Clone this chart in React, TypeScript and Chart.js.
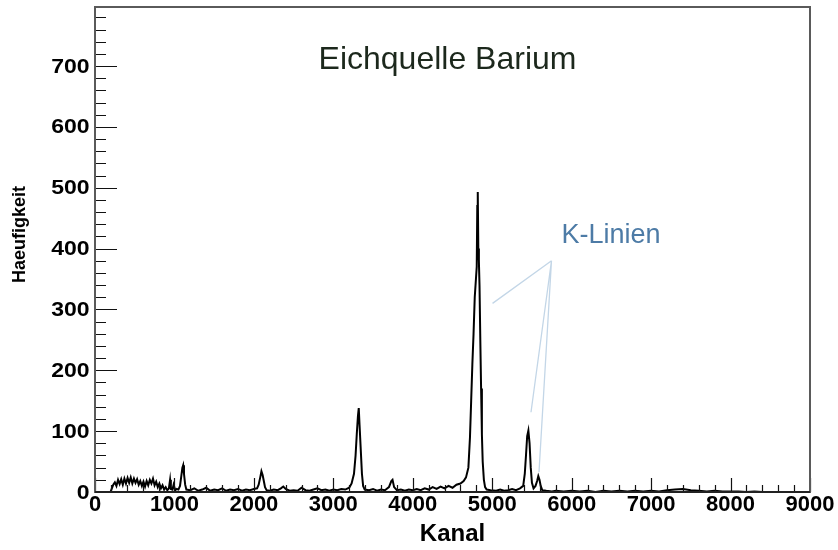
import { useEffect, useRef } from "react";
import { Chart, registerables } from "chart.js";

Chart.register(...registerables);

// Channel (Kanal) positions and counts (Haeufigkeit)
const KANAL = [
  0, 195, 230, 250, 270, 290, 310, 330, 350, 370, 390, 410, 430, 450, 470, 490,
  510, 530, 550, 570, 590, 610, 630, 650, 670, 690, 710, 730, 750, 770, 790, 810,
  830, 850, 870, 890, 910, 930, 945, 955, 975, 990, 1010, 1030, 1050, 1070,
  1085, 1100, 1110, 1120, 1135, 1150,
  1200, 1250, 1300, 1350, 1400, 1450, 1500, 1550, 1600, 1650, 1700, 1750, 1800,
  1850, 1900, 1950, 2000, 2040,
  2060, 2080, 2095, 2110, 2125, 2140, 2160,
  2200, 2250, 2300, 2340, 2370, 2400, 2450, 2500, 2550, 2600, 2650, 2700, 2750,
  2800, 2850, 2900, 2950, 3000, 3050, 3100, 3150, 3200,
  3230, 3260, 3280, 3295, 3310, 3320, 3330, 3345, 3360, 3375, 3395,
  3450, 3500, 3550, 3600, 3650, 3700, 3730, 3745, 3765, 3800, 3850, 3900, 3950,
  4000, 4050, 4100, 4150, 4200, 4250, 4300, 4350, 4400, 4450, 4500, 4550, 4600,
  4640, 4670, 4700, 4720, 4735, 4750, 4765, 4780, 4795, 4805, 4812, 4818, 4825,
  4832, 4840, 4850, 4860, 4870, 4880, 4895, 4910, 4930,
  4980, 5050, 5100, 5150, 5200, 5250, 5300, 5350, 5390, 5410, 5425, 5440, 5455,
  5470, 5485, 5500, 5520, 5545, 5565, 5580, 5595, 5610, 5630, 5680, 5750, 5800,
  5900, 6000, 6100, 6200, 6300, 6400, 6500, 6600, 6700, 6800, 6900, 7000, 7100,
  7200, 7300, 7400, 7500, 7600, 7700, 7800, 7900, 8000, 8100, 8200, 8300, 8400,
  8500, 8600, 8800, 9000,
];

const HAEUFIGKEIT = [
  0, 0, 12, 16, 10, 20, 13, 21, 12, 22, 14, 23, 15, 24, 14, 22,
  15, 21, 12, 18, 10, 17, 9, 18, 11, 20, 14, 22, 11, 17, 8, 14,
  6, 11, 4, 8, 3, 6, 20, 5, 4, 12, 3, 5, 4, 10,
  25, 40, 44, 30, 12, 4,
  3, 6, 2, 4, 7, 2, 4, 3, 6, 2, 4, 3, 5,
  2, 4, 3, 5, 6,
  12, 24, 34, 28, 18, 8, 3,
  2, 4, 3, 6, 9, 5, 2, 3, 2, 7, 3, 2, 4,
  6, 3, 4, 2, 4, 3, 5, 4, 7,
  14, 30, 60, 95, 125, 138, 110, 70, 30, 10, 4,
  3, 5, 2, 4, 3, 8, 18, 20, 8, 3, 4, 2, 4,
  3, 5, 3, 6, 4, 8, 5, 9, 6, 10, 7, 12, 14,
  18, 24, 40, 90, 150, 210, 260, 320, 350, 370, 470, 493, 400,
  380, 340, 250, 170, 95, 50, 20, 8, 4,
  3, 2, 4, 2, 3, 5, 3, 6, 10, 30, 60, 92, 101,
  80, 40, 15, 6, 10, 18, 26, 20, 10, 3, 2, 1, 2,
  1, 2, 1, 2, 0, 2, 1, 2, 1, 2, 1, 2, 1,
  3, 4, 5, 3, 2, 1, 2, 1, 1, 1, 0, 1, 0,
  0, 0, 0, 0,
];

const X_MIN = 0;
const X_MAX = 9000;
const Y_MIN = 0;
const Y_MAX = 797;
const X_MAJOR = 1000;
const X_MINOR = 200;
const Y_MAJOR = 100;
const Y_MINOR = 20;
const Y_LABELS = [0, 100, 200, 300, 400, 500, 600, 700];

const TITLE = "Eichquelle Barium";
const X_TITLE = "Kanal";
const Y_TITLE = "Haeufigkeit";
const NOTE = "K-Linien";
// annotation: lines from the label's anchor to the K-lines
const NOTE_ANCHOR_X = 5746;
const NOTE_ANCHOR_Y = 380;
const NOTE_TARGET_X = [5004, 5488, 5589];
const NOTE_TARGET_Y = [310, 131, 33];

const FONT = '"Liberation Sans", Arial, Helvetica, sans-serif';

const overlay = {
  id: "overlay",
  afterDatasetsDraw(chart: any) {
    const { ctx, chartArea: a, scales } = chart;
    const x = scales.x;
    const y = scales.y;
    ctx.save();

    // inner ticks
    ctx.strokeStyle = "#111";
    ctx.lineWidth = 1.2;
    ctx.beginPath();
    for (let v = X_MIN; v <= X_MAX; v += X_MINOR) {
      const px = Math.round(x.getPixelForValue(v)) + 0.5;
      const len = v % X_MAJOR === 0 ? 14 : 7;
      ctx.moveTo(px, a.bottom);
      ctx.lineTo(px, a.bottom - len);
    }
    for (let v = Y_MIN; v <= Y_MAX; v += Y_MINOR) {
      const py = Math.round(y.getPixelForValue(v)) + 0.5;
      const len = v % Y_MAJOR === 0 ? 22 : 11;
      ctx.moveTo(a.left, py);
      ctx.lineTo(a.left + len, py);
    }
    ctx.stroke();

    // frame
    ctx.strokeStyle = "#5a5a5a";
    ctx.lineWidth = 2;
    ctx.strokeRect(a.left, a.top, a.right - a.left, a.bottom - a.top);
    ctx.strokeStyle = "#111";
    ctx.lineWidth = 1.6;
    ctx.beginPath();
    ctx.moveTo(a.left, a.bottom);
    ctx.lineTo(a.right, a.bottom);
    ctx.stroke();

    // y tick labels (slightly wide, as in the reference)
    ctx.fillStyle = "#000";
    ctx.font = `bold 20px ${FONT}`;
    ctx.textAlign = "right";
    ctx.textBaseline = "middle";
    for (const v of Y_LABELS) {
      ctx.save();
      ctx.translate(a.left - 5.5, y.getPixelForValue(v) + 1);
      ctx.scale(1.15, 1);
      ctx.fillText(String(v), 0, 0);
      ctx.restore();
    }

    // annotation lines
    ctx.strokeStyle = "#c3d6e7";
    ctx.lineWidth = 1.3;
    ctx.beginPath();
    const ax = x.getPixelForValue(NOTE_ANCHOR_X);
    const ay = y.getPixelForValue(NOTE_ANCHOR_Y);
    for (let i = 0; i < NOTE_TARGET_X.length; i++) {
      ctx.moveTo(ax, ay);
      ctx.lineTo(x.getPixelForValue(NOTE_TARGET_X[i]), y.getPixelForValue(NOTE_TARGET_Y[i]));
    }
    ctx.stroke();

    // texts
    ctx.textBaseline = "alphabetic";
    ctx.fillStyle = "#4d7ba6";
    ctx.font = `27px ${FONT}`;
    ctx.textAlign = "left";
    ctx.fillText(NOTE, 561.5, 242.5);

    ctx.fillStyle = "#1c281c";
    ctx.font = `32px ${FONT}`;
    ctx.textAlign = "center";
    ctx.fillText(TITLE, 447.5, 68.5);

    ctx.fillStyle = "#000";
    ctx.font = `bold 24px ${FONT}`;
    ctx.fillText(X_TITLE, (a.left + a.right) / 2, 541);

    ctx.translate(24.5, 234.5);
    ctx.rotate(-Math.PI / 2);
    ctx.font = `bold 18px ${FONT}`;
    ctx.fillText(Y_TITLE, 0, 0);
    ctx.restore();
  },
};

export default function App() {
  const ref = useRef<HTMLCanvasElement | null>(null);

  useEffect(() => {
    if (!ref.current) return;
    const data = KANAL.map((k, i) => ({ x: k, y: HAEUFIGKEIT[i] }));
    const zeroPad = (s: any) => {
      s.paddingLeft = 0;
      s.paddingRight = 0;
      s.paddingTop = 0;
      s.paddingBottom = 0;
    };
    const chart = new Chart(ref.current, {
      type: "line",
      data: {
        datasets: [
          {
            data,
            borderColor: "#000",
            borderWidth: 2,
            pointRadius: 0,
            tension: 0,
            fill: false,
          },
        ],
      },
      options: {
        animation: false,
        responsive: true,
        maintainAspectRatio: false,
        layout: { padding: { left: 0, top: 7, right: 28, bottom: 0 } },
        plugins: {
          legend: { display: false },
          tooltip: { enabled: false },
        },
        scales: {
          x: {
            type: "linear",
            min: X_MIN,
            max: X_MAX,
            grid: { display: false, drawTicks: false, tickLength: 0 },
            border: { display: false },
            ticks: {
              stepSize: X_MAJOR,
              autoSkip: false,
              maxRotation: 0,
              padding: 0,
              color: "#000",
              font: { family: FONT, size: 22, weight: "bold" },
              callback: (v: any) => String(v),
            },
            afterFit: (s: any) => {
              s.height = 58;
              zeroPad(s);
            },
          },
          y: {
            type: "linear",
            min: Y_MIN,
            max: Y_MAX,
            grid: { display: false, drawTicks: false, tickLength: 0 },
            border: { display: false },
            ticks: { display: false, stepSize: Y_MAJOR },
            afterFit: (s: any) => {
              s.width = 95;
              zeroPad(s);
            },
          },
        },
      },
      plugins: [overlay],
    });
    return () => chart.destroy();
  }, []);

  return (
    <div style={{ position: "fixed", left: 0, top: 0, width: 838, height: 550, background: "#fff" }}>
      <canvas ref={ref} style={{ display: "block" }} />
    </div>
  );
}
